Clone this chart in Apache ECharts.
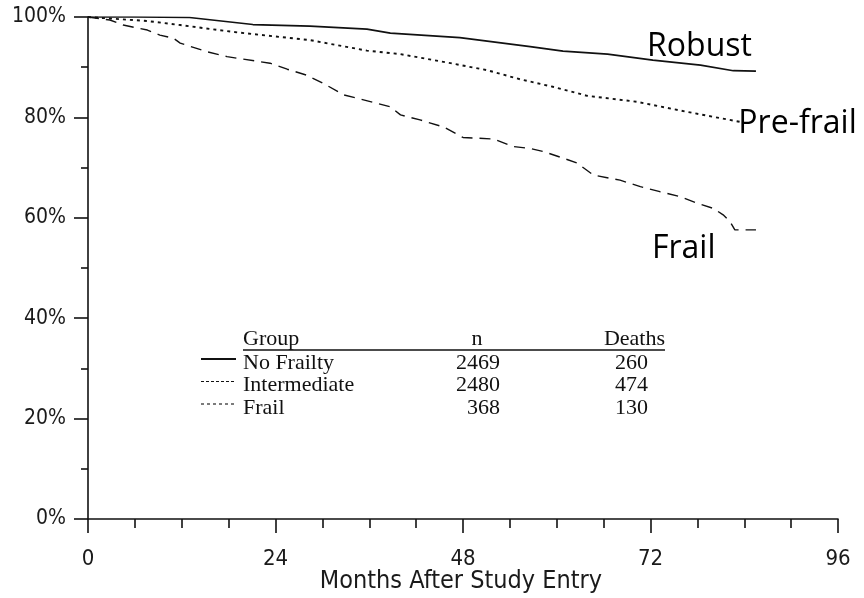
<!DOCTYPE html>
<html>
<head>
<meta charset="utf-8">
<script src="https://cdn.jsdelivr.net/npm/echarts@6/dist/echarts.min.js"></script>
<style>
  html, body { margin: 0; padding: 0; background: #fff; }
  #chart { width: 864px; height: 598px; }
</style>
</head>
<body>
<div id="chart"></div>
<script>
// Survival (%) by months after study entry, one array per frailty group
const robustCurve = [[0,100],[6,100],[13,99.9],[21.1,98.5],[28.4,98.2],[35.7,97.6],[38.7,96.8],[47.6,95.9],[56.6,94.1],[60.8,93.2],[66.5,92.6],[72.3,91.4],[78.4,90.4],[82.6,89.3],[85.5,89.2]];
const prefrailCurve = [[0,100],[2.8,99.7],[7.6,99.2],[11.8,98.4],[18.2,97.1],[21.1,96.6],[28.4,95.4],[35.7,93.3],[40,92.6],[46.4,90.8],[51.1,89.4],[55.3,87.6],[59.5,86.1],[63.9,84.3],[70.3,83.1],[76.7,81.1],[83.5,79.1]];
const frailCurve = [[0,100],[2.8,99.4],[4.5,98.4],[7.6,97.4],[9.2,96.4],[10.9,95.8],[11.8,94.8],[15.2,93.1],[17.8,92.1],[22,91.1],[23.3,90.8],[25.5,89.6],[28,88.4],[30.1,86.8],[32.7,84.5],[37,82.8],[38.7,82.1],[40,80.5],[42.5,79.5],[45.5,78.1],[48,76],[51.9,75.7],[54.4,74.2],[56.6,73.8],[58.3,73.2],[60.8,71.9],[62.6,70.9],[64.7,68.5],[68.1,67.5],[70.7,66.2],[73.2,65.2],[75.8,64.2],[78,62.9],[80,61.9],[81.3,60.6],[82.2,59.2],[82.8,57.6],[85.5,57.6]];

const seriesNames = ['Robust', 'Pre-frail', 'Frail'];

// Group table
const tableHeaders = ['Group', 'n', 'Deaths'];
const groupNames = ['No Frailty', 'Intermediate', 'Frail'];
const groupN = [2469, 2480, 368];
const groupDeaths = [260, 474, 130];

const xTicks = { min: 0, max: 96, interval: 24 };
const yTicks = { min: 0, max: 100, interval: 20 };

const dashStyles = ['solid', [3, 4], [11, 7]];
const lineWidths = [1.7, 1.9, 1.4];
const legendDash = ['solid', [3, 2], [3, 3]];

const chart = echarts.init(document.getElementById('chart'));
const axisFont = '"DejaVu Sans Condensed", "DejaVu Sans", sans-serif';
const serif = '"Liberation Serif", serif';

chart.setOption({
  animation: false,
  backgroundColor: '#fff',
  grid: { left: 88, right: 26, top: 17, bottom: 79, containLabel: false, outerBoundsMode: 'none' },
  xAxis: {
    type: 'value', min: xTicks.min, max: xTicks.max, interval: xTicks.interval,
    name: 'Months After Study Entry', nameLocation: 'middle', nameGap: 50, nameMoveOverlap: false,
    nameTextStyle: { fontFamily: axisFont, fontSize: 25, color: '#1a1a1a', padding: [0, 4, 0, 0] },
    axisLine: { lineStyle: { color: '#111', width: 1.6 } },
    axisTick: { length: 14, lineStyle: { color: '#111', width: 1.6 } },
    minorTick: { show: true, splitNumber: 4, length: 9, lineStyle: { color: '#111', width: 1.6 } },
    axisLabel: { fontFamily: axisFont, fontSize: 22, color: '#1a1a1a', margin: 29 },
    splitLine: { show: false }
  },
  yAxis: {
    type: 'value', min: yTicks.min, max: yTicks.max, interval: yTicks.interval,
    axisLine: { show: true, lineStyle: { color: '#111', width: 1.6 } },
    axisTick: { show: true, length: 14, lineStyle: { color: '#111', width: 1.6 } },
    minorTick: { show: true, splitNumber: 2, length: 7, lineStyle: { color: '#111', width: 1.6 } },
    axisLabel: { fontFamily: axisFont, fontSize: 21, color: '#1a1a1a', margin: 22, formatter: '{value}%' },
    splitLine: { show: false }
  },
  series: [robustCurve, prefrailCurve, frailCurve].map((d, i) => ({
    name: seriesNames[i],
    type: 'line',
    data: d,
    symbol: 'none',
    silent: true,
    lineStyle: { color: '#111', width: lineWidths[i], type: dashStyles[i] }
  }))
});

// Curve name labels placed next to each curve's last point
const ends = [robustCurve, prefrailCurve, frailCurve].map((d, i) =>
  chart.convertToPixel({ seriesIndex: i }, d[d.length - 1]));
const curveFont = { fontFamily: '"Open Sans", sans-serif', fontSize: 32, fill: '#000' };
const graphics = [
  { type: 'text', x: ends[0][0] - 4, y: ends[0][1] - 8,
    style: Object.assign({ text: seriesNames[0], align: 'right', verticalAlign: 'bottom' }, curveFont) },
  { type: 'text', x: ends[1][0] - 2, y: ends[1][1] + 2,
    style: Object.assign({ text: seriesNames[1], align: 'left', verticalAlign: 'middle', backgroundColor: '#fff' }, curveFont) },
  { type: 'text', x: ends[2][0] - 104, y: ends[2][1] + 3,
    style: Object.assign({ text: seriesNames[2], align: 'left', verticalAlign: 'top' }, curveFont) }
];

// Group table: header, rule, and one row per group
const tblLeft = 243, colN = 500, colDeaths = 665, headY = 339, rowY0 = 363, rowStep = 22.5;
const tFont = { fontFamily: serif, fontSize: 22, fill: '#111' };
graphics.push(
  { type: 'text', x: tblLeft, y: headY, style: Object.assign({ text: tableHeaders[0], align: 'left', verticalAlign: 'middle' }, tFont) },
  { type: 'text', x: 477, y: headY, style: Object.assign({ text: tableHeaders[1], align: 'center', verticalAlign: 'middle' }, tFont) },
  { type: 'text', x: colDeaths, y: headY, style: Object.assign({ text: tableHeaders[2], align: 'right', verticalAlign: 'middle' }, tFont) },
  { type: 'line', shape: { x1: tblLeft, y1: headY + 11, x2: colDeaths, y2: headY + 11 }, style: { stroke: '#111', lineWidth: 1.3 } }
);
groupNames.forEach((g, i) => {
  const y = rowY0 + i * rowStep;
  graphics.push(
    { type: 'line', shape: { x1: 201, y1: y - 4, x2: 236, y2: y - 4 },
      style: { stroke: '#111', lineWidth: i === 0 ? 1.9 : 1.1, lineDash: legendDash[i] === 'solid' ? null : legendDash[i] } },
    { type: 'text', x: tblLeft, y: y, style: Object.assign({ text: g, align: 'left', verticalAlign: 'middle' }, tFont) },
    { type: 'text', x: colN, y: y, style: Object.assign({ text: String(groupN[i]), align: 'right', verticalAlign: 'middle' }, tFont) },
    { type: 'text', x: colDeaths - 17, y: y, style: Object.assign({ text: String(groupDeaths[i]), align: 'right', verticalAlign: 'middle' }, tFont) }
  );
});
chart.setOption({ graphic: graphics });
</script>
</body>
</html>
